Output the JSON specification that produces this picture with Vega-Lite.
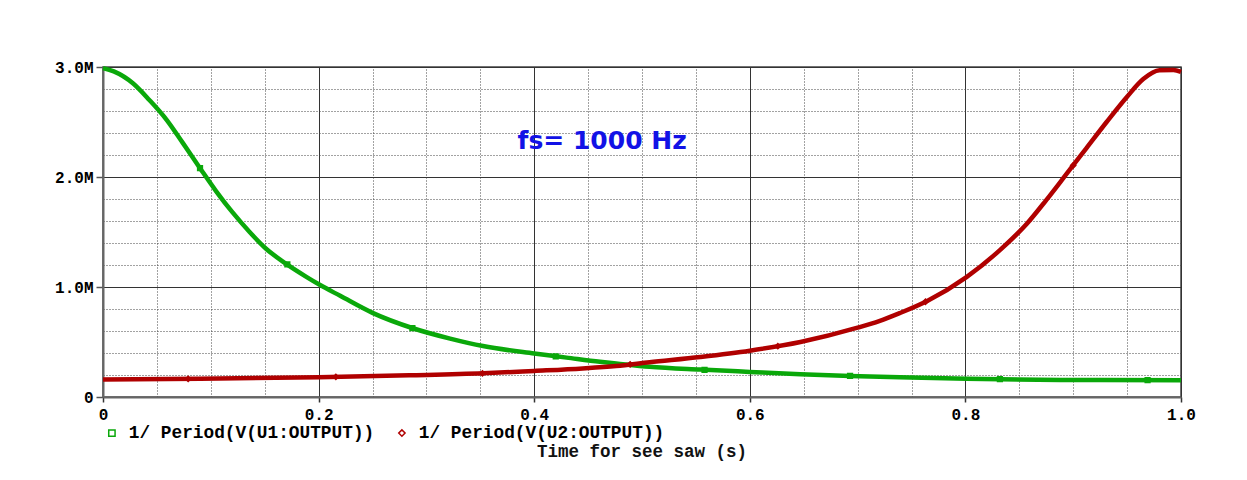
{
  "$schema": "https://vega.github.io/schema/vega-lite/v6.json",
  "width": 1078,
  "height": 330,
  "autosize": {"type": "none"},
  "padding": {"left": 103, "top": 67, "right": 66, "bottom": 83},
  "background": "white",
  "config": {
    "view": {"stroke": "#444444", "strokeWidth": 1.5},
    "font": "Liberation Mono",
    "legend": {
      "orient": "bottom", "direction": "horizontal", "title": null,
      "labelFont": "Liberation Mono", "labelFontSize": 17.8, "labelFontWeight": "bold",
      "labelColor": "#000000", "labelLimit": 400, "labelOffset": 8,
      "symbolSize": 40, "symbolStrokeWidth": 1.5,
      "columnPadding": 18, "offset": 2, "padding": 0
    }
  },
  "title": {
    "text": "Time for see saw (s)",
    "orient": "bottom",
    "anchor": "middle",
    "frame": "group",
    "font": "Liberation Mono",
    "fontSize": 17.5,
    "fontWeight": "bold",
    "color": "#111111",
    "offset": 1
  },
  "datasets": {
    "curves": [
      {"series": "1/ Period(V(U1:OUTPUT))", "t": 0.0, "f": 2990000},
      {"series": "1/ Period(V(U1:OUTPUT))", "t": 0.01, "f": 2960000},
      {"series": "1/ Period(V(U1:OUTPUT))", "t": 0.028, "f": 2850000},
      {"series": "1/ Period(V(U1:OUTPUT))", "t": 0.043, "f": 2700000},
      {"series": "1/ Period(V(U1:OUTPUT))", "t": 0.059, "f": 2520000},
      {"series": "1/ Period(V(U1:OUTPUT))", "t": 0.074, "f": 2310000},
      {"series": "1/ Period(V(U1:OUTPUT))", "t": 0.09, "f": 2080000},
      {"series": "1/ Period(V(U1:OUTPUT))", "t": 0.105, "f": 1870000},
      {"series": "1/ Period(V(U1:OUTPUT))", "t": 0.12, "f": 1680000},
      {"series": "1/ Period(V(U1:OUTPUT))", "t": 0.136, "f": 1500000},
      {"series": "1/ Period(V(U1:OUTPUT))", "t": 0.151, "f": 1350000},
      {"series": "1/ Period(V(U1:OUTPUT))", "t": 0.17, "f": 1210000},
      {"series": "1/ Period(V(U1:OUTPUT))", "t": 0.189, "f": 1090000},
      {"series": "1/ Period(V(U1:OUTPUT))", "t": 0.201, "f": 1020000},
      {"series": "1/ Period(V(U1:OUTPUT))", "t": 0.22, "f": 920000},
      {"series": "1/ Period(V(U1:OUTPUT))", "t": 0.25, "f": 765000},
      {"series": "1/ Period(V(U1:OUTPUT))", "t": 0.2875, "f": 625000},
      {"series": "1/ Period(V(U1:OUTPUT))", "t": 0.322, "f": 531000},
      {"series": "1/ Period(V(U1:OUTPUT))", "t": 0.3525, "f": 463000},
      {"series": "1/ Period(V(U1:OUTPUT))", "t": 0.4, "f": 395000},
      {"series": "1/ Period(V(U1:OUTPUT))", "t": 0.43, "f": 358000},
      {"series": "1/ Period(V(U1:OUTPUT))", "t": 0.461, "f": 320000},
      {"series": "1/ Period(V(U1:OUTPUT))", "t": 0.476, "f": 305000},
      {"series": "1/ Period(V(U1:OUTPUT))", "t": 0.507, "f": 275000},
      {"series": "1/ Period(V(U1:OUTPUT))", "t": 0.554, "f": 249000},
      {"series": "1/ Period(V(U1:OUTPUT))", "t": 0.6, "f": 228000},
      {"series": "1/ Period(V(U1:OUTPUT))", "t": 0.647, "f": 207000},
      {"series": "1/ Period(V(U1:OUTPUT))", "t": 0.693, "f": 191000},
      {"series": "1/ Period(V(U1:OUTPUT))", "t": 0.739, "f": 179000},
      {"series": "1/ Period(V(U1:OUTPUT))", "t": 0.801, "f": 166000},
      {"series": "1/ Period(V(U1:OUTPUT))", "t": 0.888, "f": 155000},
      {"series": "1/ Period(V(U1:OUTPUT))", "t": 1.0, "f": 152000},
      {"series": "1/ Period(V(U2:OUTPUT))", "t": 0.0, "f": 158000},
      {"series": "1/ Period(V(U2:OUTPUT))", "t": 0.09, "f": 165000},
      {"series": "1/ Period(V(U2:OUTPUT))", "t": 0.2, "f": 180000},
      {"series": "1/ Period(V(U2:OUTPUT))", "t": 0.284, "f": 197000},
      {"series": "1/ Period(V(U2:OUTPUT))", "t": 0.3525, "f": 215000},
      {"series": "1/ Period(V(U2:OUTPUT))", "t": 0.4, "f": 237000},
      {"series": "1/ Period(V(U2:OUTPUT))", "t": 0.445, "f": 260000},
      {"series": "1/ Period(V(U2:OUTPUT))", "t": 0.476, "f": 282000},
      {"series": "1/ Period(V(U2:OUTPUT))", "t": 0.507, "f": 316000},
      {"series": "1/ Period(V(U2:OUTPUT))", "t": 0.554, "f": 364000},
      {"series": "1/ Period(V(U2:OUTPUT))", "t": 0.6, "f": 421000},
      {"series": "1/ Period(V(U2:OUTPUT))", "t": 0.647, "f": 500000},
      {"series": "1/ Period(V(U2:OUTPUT))", "t": 0.7, "f": 630000},
      {"series": "1/ Period(V(U2:OUTPUT))", "t": 0.72, "f": 690000},
      {"series": "1/ Period(V(U2:OUTPUT))", "t": 0.739, "f": 762000},
      {"series": "1/ Period(V(U2:OUTPUT))", "t": 0.765, "f": 875000},
      {"series": "1/ Period(V(U2:OUTPUT))", "t": 0.801, "f": 1090000},
      {"series": "1/ Period(V(U2:OUTPUT))", "t": 0.832, "f": 1335000},
      {"series": "1/ Period(V(U2:OUTPUT))", "t": 0.857, "f": 1575000},
      {"series": "1/ Period(V(U2:OUTPUT))", "t": 0.875, "f": 1790000},
      {"series": "1/ Period(V(U2:OUTPUT))", "t": 0.894, "f": 2030000},
      {"series": "1/ Period(V(U2:OUTPUT))", "t": 0.9125, "f": 2265000},
      {"series": "1/ Period(V(U2:OUTPUT))", "t": 0.931, "f": 2500000},
      {"series": "1/ Period(V(U2:OUTPUT))", "t": 0.95, "f": 2730000},
      {"series": "1/ Period(V(U2:OUTPUT))", "t": 0.965, "f": 2890000},
      {"series": "1/ Period(V(U2:OUTPUT))", "t": 0.98, "f": 2970000},
      {"series": "1/ Period(V(U2:OUTPUT))", "t": 0.993, "f": 2972000},
      {"series": "1/ Period(V(U2:OUTPUT))", "t": 1.0, "f": 2955000}
    ],
    "markers": [
      {"series": "1/ Period(V(U1:OUTPUT))", "t": 0.09, "f": 2080000},
      {"series": "1/ Period(V(U1:OUTPUT))", "t": 0.171, "f": 1205000},
      {"series": "1/ Period(V(U1:OUTPUT))", "t": 0.287, "f": 627000},
      {"series": "1/ Period(V(U1:OUTPUT))", "t": 0.42, "f": 370000},
      {"series": "1/ Period(V(U1:OUTPUT))", "t": 0.558, "f": 247000},
      {"series": "1/ Period(V(U1:OUTPUT))", "t": 0.693, "f": 191000},
      {"series": "1/ Period(V(U1:OUTPUT))", "t": 0.832, "f": 162000},
      {"series": "1/ Period(V(U1:OUTPUT))", "t": 0.969, "f": 153000},
      {"series": "1/ Period(V(U2:OUTPUT))", "t": 0.079, "f": 164000},
      {"series": "1/ Period(V(U2:OUTPUT))", "t": 0.216, "f": 183000},
      {"series": "1/ Period(V(U2:OUTPUT))", "t": 0.352, "f": 215000},
      {"series": "1/ Period(V(U2:OUTPUT))", "t": 0.489, "f": 296000},
      {"series": "1/ Period(V(U2:OUTPUT))", "t": 0.626, "f": 462000},
      {"series": "1/ Period(V(U2:OUTPUT))", "t": 0.763, "f": 866000},
      {"series": "1/ Period(V(U2:OUTPUT))", "t": 0.9, "f": 2105000}
    ],
    "notes": [
      {"t": 0.463, "f": 2330000, "label": "fs= 1000 Hz"}
    ]
  },
  "layer": [
    {
      "data": {"name": "curves"},
      "mark": {"type": "point", "opacity": 0},
      "encoding": {
        "x": {
          "field": "t", "type": "quantitative",
          "scale": {"domain": [0, 1], "nice": false, "zero": false},
          "axis": {
            "orient": "top", "title": null, "labels": false, "ticks": false, "domain": false,
            "grid": true, "gridColor": "#444444", "gridDash": [1, 2], "gridWidth": 1,
            "values": [0.05, 0.1, 0.15, 0.25, 0.3, 0.35, 0.45, 0.5, 0.55, 0.65, 0.7, 0.75, 0.85, 0.9, 0.95]
          }
        },
        "y": {
          "field": "f", "type": "quantitative",
          "scale": {"domain": [0, 3000000], "nice": false},
          "axis": {
            "orient": "right", "title": null, "labels": false, "ticks": false, "domain": false,
            "grid": true, "gridColor": "#444444", "gridDash": [1, 2], "gridWidth": 1,
            "values": [200000, 400000, 600000, 800000, 1200000, 1400000, 1600000, 1800000, 2200000, 2400000, 2600000, 2800000]
          }
        }
      }
    },
    {
      "data": {"name": "curves"},
      "mark": {"type": "line", "strokeWidth": 4.5, "interpolate": "monotone"},
      "encoding": {
        "x": {
          "field": "t", "type": "quantitative",
          "scale": {"domain": [0, 1], "nice": false, "zero": false},
          "axis": {
            "orient": "bottom", "title": null,
            "values": [0, 0.2, 0.4, 0.6, 0.8, 1.0],
            "labelExpr": "datum.value == 0 ? '0' : format(datum.value, '.1f')",
            "grid": true, "gridColor": "#333333", "gridWidth": 1,
            "domainColor": "#666666", "domainWidth": 2,
            "tickColor": "#333333", "tickSize": 5, "tickWidth": 1.5,
            "labelFont": "Liberation Mono", "labelFontSize": 16, "labelFontWeight": "bold",
            "labelColor": "#000000", "labelPadding": 4, "labelFlush": false
          }
        },
        "y": {
          "field": "f", "type": "quantitative",
          "scale": {"domain": [0, 3000000], "nice": false},
          "axis": {
            "orient": "left", "title": null,
            "values": [0, 1000000, 2000000, 3000000],
            "labelExpr": "datum.value == 0 ? '0' : format(datum.value / 1000000, '.1f') + 'M'",
            "grid": true, "gridColor": "#333333", "gridWidth": 1,
            "domainColor": "#666666", "domainWidth": 2,
            "tickColor": "#555555", "tickSize": 7, "tickWidth": 1.5,
            "labelFont": "Liberation Mono", "labelFontSize": 16, "labelFontWeight": "bold",
            "labelColor": "#000000", "labelPadding": 3
          }
        },
        "color": {
          "field": "series", "type": "nominal",
          "scale": {
            "domain": ["1/ Period(V(U1:OUTPUT))", "1/ Period(V(U2:OUTPUT))"],
            "range": ["#0aa80a", "#b00000"]
          }
        }
      }
    },
    {
      "data": {"name": "markers"},
      "mark": {"type": "point", "filled": false, "size": 14, "strokeWidth": 2.5, "opacity": 1},
      "encoding": {
        "x": {"field": "t", "type": "quantitative", "axis": null},
        "y": {"field": "f", "type": "quantitative", "axis": null},
        "color": {"field": "series", "type": "nominal"},
        "shape": {
          "field": "series", "type": "nominal",
          "scale": {
            "domain": ["1/ Period(V(U1:OUTPUT))", "1/ Period(V(U2:OUTPUT))"],
            "range": ["square", "diamond"]
          }
        }
      }
    },
    {
      "data": {"name": "notes"},
      "mark": {
        "type": "text", "font": "DejaVu Sans", "fontSize": 25, "fontWeight": "bold",
        "color": "#1212e6", "align": "center", "baseline": "middle"
      },
      "encoding": {
        "x": {"field": "t", "type": "quantitative", "axis": null},
        "y": {"field": "f", "type": "quantitative", "axis": null},
        "text": {"field": "label"}
      }
    }
  ],
  "resolve": {"axis": {"x": "independent", "y": "independent"}}
}
